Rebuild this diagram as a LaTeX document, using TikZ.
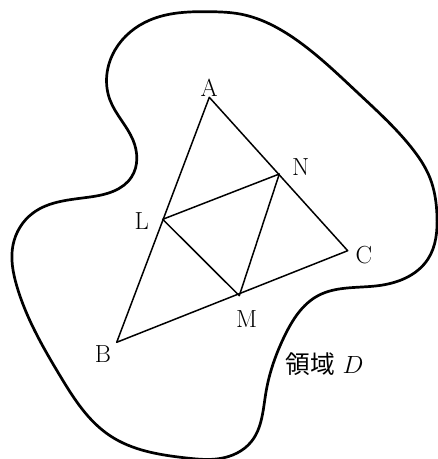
\documentclass[tikz,border=0pt]{standalone}
\usepackage{fontspec}
\usetikzlibrary{hobby}
\newfontfamily\cjk{Noto Sans CJK JP}
\begin{document}
\begin{tikzpicture}[x=1pt,y=-1pt,
  region/.style={line width=2.7pt,line join=round},
  edge/.style={line width=1.5pt,line join=round},
  lab/.style={inner sep=0pt,anchor=base,font=\fontsize{24.7}{30}\selectfont}]
\useasboundingbox (0,0) rectangle (438,459);
% region D
\draw[region,use Hobby shortcut,closed=true]
 (210,11.7) .. (240,14) .. (298,41) .. (358,93)
 .. (411,147) .. (430,178) .. (437,216)
 .. (428,259) .. (378,285.7) .. (318,295.7) .. (284.7,335.7) .. (266,392)
 .. (251,442) .. (220,458.5) .. (186.7,458) .. (110,435.7) .. (60,375.7)
 .. (16.7,285.7) .. (13,245) .. (33,213) .. (90,197) .. (131.7,176.7)
 .. (133,140) .. (110,100) .. (115,50) .. (150,20);
% vertices
\coordinate (A) at (209.3,97.3);
\coordinate (B) at (116.7,342.3);
\coordinate (C) at (347.7,250.7);
\coordinate (L) at (162.7,219.3);
\coordinate (M) at (239.3,295.7);
\coordinate (N) at (279.3,174);
\draw[edge] (A) -- (B) -- (C) -- cycle;
\draw[edge] (L) -- (N) -- (M) -- cycle;
% labels
\node[lab] (lA) at (209.3,96.7) {A};
\node[lab] (lN) at (300.8,175) {N};
\node[lab] (lL) at (141.7,229.3) {L};
\node[lab] (lC) at (363.8,263.5) {C};
\node[lab] (lM) at (246.7,327.3) {M};
\node[lab] (lB) at (103,362.3) {B};
\node[lab,anchor=base west] (lD) at (285.5,373) {{\cjk 領域} $D$};
\end{tikzpicture}
\end{document}
